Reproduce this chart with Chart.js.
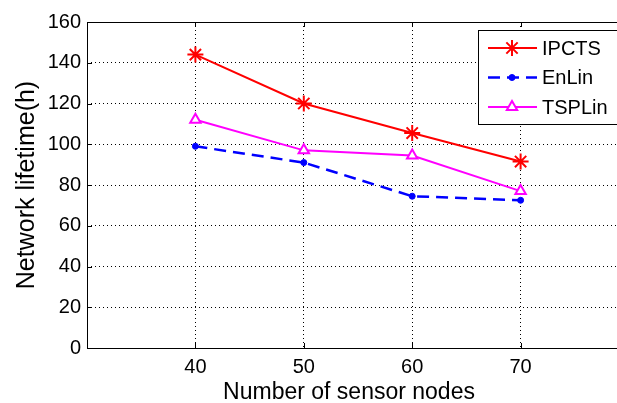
<!DOCTYPE html>
<html>
<head>
<meta charset="utf-8">
<script src="https://cdn.jsdelivr.net/npm/chart.js@4"></script>
<style>
  html, body { margin: 0; padding: 0; background: #fff; overflow: hidden; }
  #wrap { width: 639px; height: 403px; }
</style>
</head>
<body>
<div id="wrap"><canvas id="lifeChart" width="639" height="403"></canvas></div>
<script>
// data
const sensorNodes = [40, 50, 60, 70];
const ipcts = [144, 120, 105.5, 91.5];
const enlin = [99, 91, 74.5, 72.5];
const tsplin = [112, 97, 94.5, 77];
const xTicks = [40, 50, 60, 70];
const yTicks = [0, 20, 40, 60, 80, 100, 120, 140, 160];
const xTitle = 'Number of sensor nodes';
const yTitle = 'Network lifetime(h)';

const family = 'Arial, "Liberation Sans", sans-serif';
const tickFont = { family: family, size: 20 };

function points(ys) {
    return sensorNodes.map((x, i) => ({ x: x, y: ys[i] }));
}

// box around plot, inward tick marks, x label and legend inside the plot
const boxAndLegend = {
    id: 'boxAndLegend',
    afterDraw(chart) {
        const ctx = chart.ctx;
        const a = chart.chartArea;
        const sx = chart.scales.x, sy = chart.scales.y;
        ctx.save();
        ctx.strokeStyle = '#000';
        ctx.lineWidth = 1;
        ctx.setLineDash([]);
        ctx.strokeRect(a.left + 0.5, a.top + 0.5, a.right - a.left, a.bottom - a.top);

        // small matlab style ticks pointing inwards
        ctx.beginPath();
        xTicks.forEach(v => {
            const px = Math.round(sx.getPixelForValue(v)) + 0.5;
            ctx.moveTo(px, a.bottom); ctx.lineTo(px, a.bottom - 5);
            ctx.moveTo(px, a.top); ctx.lineTo(px, a.top + 5);
        });
        yTicks.forEach(v => {
            const py = Math.round(sy.getPixelForValue(v)) + 0.5;
            ctx.moveTo(a.left, py); ctx.lineTo(a.left + 5, py);
        });
        ctx.stroke();

        // x axis label (sits a bit left of the axes centre in the original)
        ctx.fillStyle = '#000';
        ctx.font = '23px ' + family;
        ctx.textAlign = 'center';
        ctx.textBaseline = 'alphabetic';
        ctx.fillText(xTitle, a.left + 262, 399);

        const bx = a.right - 151, by = a.top + 8, bw = 152, bh = 94;
        ctx.fillStyle = '#fff';
        ctx.fillRect(bx, by, bw, bh);
        ctx.strokeRect(bx + 0.5, by + 0.5, bw, bh);

        ctx.font = '20px ' + family;
        ctx.textAlign = 'left';
        ctx.textBaseline = 'middle';
        chart.data.datasets.forEach((ds, i) => {
            const y = by + 18 + i * 29.5;
            ctx.strokeStyle = ds.borderColor;
            ctx.lineWidth = ds.borderWidth;
            ctx.setLineDash(ds.borderDash || []);
            ctx.beginPath();
            ctx.moveTo(bx + 10, y);
            ctx.lineTo(bx + 59, y);
            ctx.stroke();
            ctx.setLineDash([]);
            ctx.fillStyle = ds.backgroundColor;
            ctx.lineWidth = ds.pointBorderWidth;
            Chart.helpers.drawPoint(ctx, {
                pointStyle: ds.pointStyle,
                radius: ds.pointRadius,
                borderWidth: ds.pointBorderWidth
            }, bx + 34, y);
            ctx.fillStyle = '#000';
            ctx.fillText(ds.label, bx + 64, y + 1);
        });
        ctx.restore();
    }
};

const config = {
    type: 'line',
    data: {
        datasets: [{
            label: 'IPCTS',
            data: points(ipcts),
            borderColor: '#ff0000',
            backgroundColor: '#ff0000',
            borderWidth: 2,
            pointStyle: 'star',
            pointRadius: 8,
            pointBorderWidth: 2
        }, {
            label: 'EnLin',
            data: points(enlin),
            borderColor: '#0000ff',
            backgroundColor: '#0000ff',
            borderWidth: 2.5,
            borderDash: [12, 7],
            pointStyle: 'circle',
            pointRadius: 3,
            pointBorderWidth: 1
        }, {
            label: 'TSPLin',
            data: points(tsplin),
            borderColor: '#ff00ff',
            backgroundColor: '#ffffff',
            borderWidth: 2,
            pointStyle: 'triangle',
            pointRadius: 6,
            pointBorderWidth: 2
        }]
    },
    options: {
        responsive: false,
        animation: false,
        layout: { padding: { top: 22, right: 4, left: 0, bottom: 0 } },
        plugins: { legend: { display: false }, tooltip: { enabled: false } },
        scales: {
            x: {
                type: 'linear',
                min: 30,
                max: 80,
                afterBuildTicks: s => { s.ticks = xTicks.map(v => ({ value: v })); },
                afterFit: s => { s.height = 55; },
                grid: { color: '#000', lineWidth: 1, drawTicks: false },
                border: { display: false, dash: [1, 3] },
                ticks: { color: '#000', font: tickFont, padding: 7, maxRotation: 0 },
                title: { display: false, text: xTitle }
            },
            y: {
                min: 0,
                max: 160,
                afterBuildTicks: s => { s.ticks = yTicks.map(v => ({ value: v })); },
                afterFit: s => { s.width = 87; },
                grid: { color: '#000', lineWidth: 1, drawTicks: false },
                border: { display: false, dash: [1, 3] },
                ticks: { color: '#000', font: tickFont, padding: 6 },
                title: { display: true, text: yTitle, color: '#000', font: { family: family, size: 25 }, padding: { top: 12, bottom: 0 } }
            }
        }
    },
    plugins: [boxAndLegend]
};

const ctxLife = document.getElementById('lifeChart').getContext('2d');
const lifeChart = new Chart(ctxLife, config);
</script>
</body>
</html>
